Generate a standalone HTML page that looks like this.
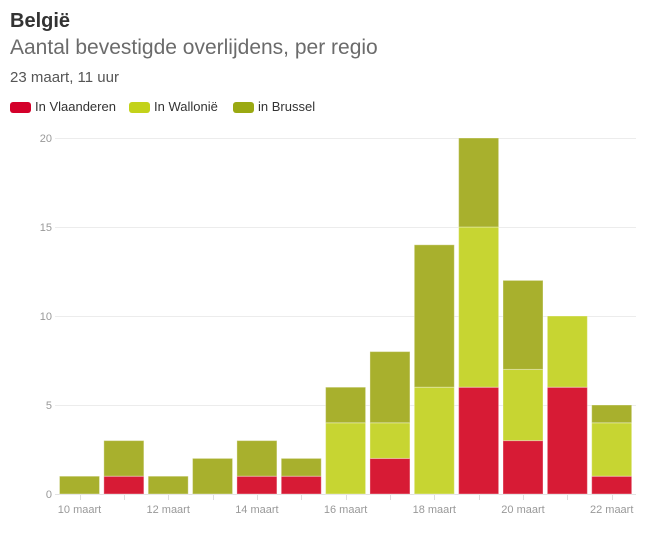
<!DOCTYPE html>
<html><head><meta charset="utf-8"><style>
html,body{margin:0;padding:0;background:#fff;}
body{width:657px;height:533px;overflow:hidden;position:relative;font-family:"Liberation Sans",sans-serif;}
.t1{position:absolute;left:10px;top:9px;font-size:20px;font-weight:bold;color:#333;line-height:24px;}
.t2{position:absolute;left:10px;top:35px;font-size:21px;color:#6b6b6b;line-height:26px;}
.t3{position:absolute;left:10px;top:69px;font-size:15px;color:#555;line-height:18px;}
.lg{position:absolute;top:99px;font-size:13px;color:#333;line-height:16px;}
.sw{position:absolute;top:102px;width:21px;height:11px;border-radius:3px;}
svg{position:absolute;left:0;top:0;}
</style></head><body>
<div class="t1">België</div>
<div class="t2">Aantal bevestigde overlijdens, per regio</div>
<div class="t3">23 maart, 11 uur</div>
<div class="sw" style="left:10px;background:#d4002a"></div><div class="lg" style="left:35px">In Vlaanderen</div>
<div class="sw" style="left:129px;background:#c3d21a"></div><div class="lg" style="left:154px">In Wallonië</div>
<div class="sw" style="left:233px;background:#9aa912"></div><div class="lg" style="left:258px">in Brussel</div>
<svg width="657" height="533" xmlns="http://www.w3.org/2000/svg">
<g stroke="#ececec" stroke-width="1">
<line x1="55" x2="636" y1="138.5" y2="138.5"/>
<line x1="55" x2="636" y1="227.5" y2="227.5"/>
<line x1="55" x2="636" y1="316.5" y2="316.5"/>
<line x1="55" x2="636" y1="405.5" y2="405.5"/>
<line x1="55" x2="636" y1="494.5" y2="494.5" stroke="#e2e2e2"/>
</g>
<g font-size="11" fill="#999" text-anchor="end" font-family="Liberation Sans, sans-serif">
<text x="52" y="142">20</text>
<text x="52" y="231">15</text>
<text x="52" y="320">10</text>
<text x="52" y="409">5</text>
<text x="52" y="498">0</text>
</g>
<g id="bars" stroke="rgba(255,255,255,0.35)" stroke-width="1"></g>
<g id="ticks" stroke="#ddd" stroke-width="1"></g>
<g id="xl" font-size="11" fill="#999" text-anchor="middle" font-family="Liberation Sans, sans-serif"></g>
</svg>
<script>
var data=[[0,0,1],[1,0,2],[0,0,1],[0,0,2],[1,0,2],[1,0,1],[0,4,2],[2,2,4],[0,6,8],[6,9,5],[3,4,5],[6,4,0],[1,3,1]];
var cols=["#d71b35","#c7d532","#a8b02d"];
var ns="http://www.w3.org/2000/svg";
var bars=document.getElementById("bars"),ticks=document.getElementById("ticks"),xl=document.getElementById("xl");
function y(v){return 494-v*17.8;}
for(var i=0;i<13;i++){
 var x=59.5+44.35*i,acc=0;
 for(var s=0;s<3;s++){
  var v=data[i][s]; if(!v) continue;
  var r=document.createElementNS(ns,"rect");
  r.setAttribute("x",x);r.setAttribute("width",40);
  r.setAttribute("y",y(acc+v));r.setAttribute("height",v*17.8);
  r.setAttribute("fill",cols[s]);bars.appendChild(r);acc+=v;
 }
 var cx=Math.round(79.5+44.35*i)+0.5;
 var l=document.createElementNS(ns,"line");
 l.setAttribute("x1",cx);l.setAttribute("x2",cx);l.setAttribute("y1",495);l.setAttribute("y2",500);ticks.appendChild(l);
 if(i%2==0){var t=document.createElementNS(ns,"text");t.setAttribute("x",79.5+44.35*i);t.setAttribute("y",513);t.textContent=(10+i)+" maart";xl.appendChild(t);}
}
</script>
</body></html>
